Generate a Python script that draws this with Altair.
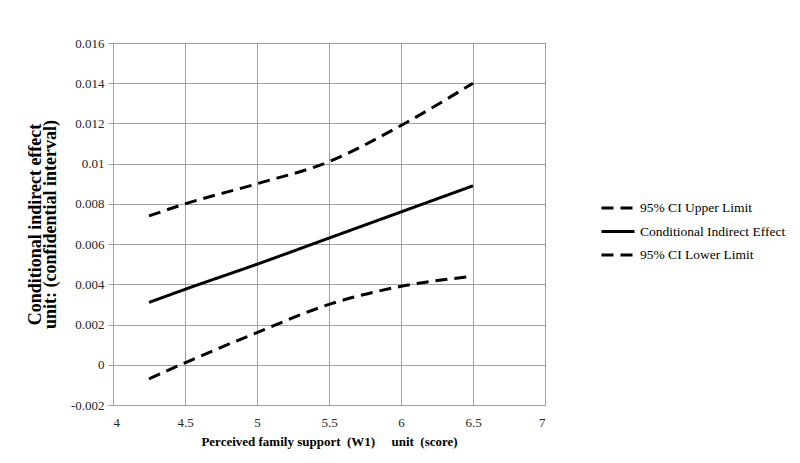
import altair as alt
import pandas as pd

# Values
support = [4.25, 4.5, 5.0, 5.5, 6.0, 6.5]
upper = [0.0074, 0.0080, 0.0090, 0.0101, 0.0119, 0.0140]
effect = [0.0031, 0.00375, 0.0050, 0.0063, 0.0076, 0.0089]
lower = [-0.0007, 0.0001, 0.0016, 0.0030, 0.0039, 0.0044]

series_names = ["95% CI Upper Limit", "Conditional Indirect Effect", "95% CI Lower Limit"]

rows = []
for name, vals in zip(series_names, [upper, effect, lower]):
    for x, v in zip(support, vals):
        rows.append({"support": x, "value": v, "series": name})
df = pd.DataFrame(rows)

FONT = "Liberation Serif"
NB = "\u00a0"

chart = (
    alt.Chart(df)
    .mark_line(color="black", strokeWidth=3, interpolate="monotone")
    .encode(
        x=alt.X(
            "support:Q",
            scale=alt.Scale(domain=[4, 7], nice=False, zero=False),
            axis=alt.Axis(
                values=[4, 4.5, 5, 5.5, 6, 6.5, 7],
                title=f"Perceived family support{NB}{NB}(W1){NB}{NB}{NB}{NB}{NB}unit{NB}{NB}(score)",
                labelExpr="datum.value",
                ticks=False,
                labelPadding=11,
                titlePadding=6,
                titleFontSize=13,
            ),
        ),
        y=alt.Y(
            "value:Q",
            scale=alt.Scale(domain=[-0.002, 0.016], nice=False, zero=False),
            axis=alt.Axis(
                values=[-0.002, 0, 0.002, 0.004, 0.006, 0.008, 0.01, 0.012, 0.014, 0.016],
                labelExpr="datum.value",
                title=["Conditional indirect effect", "unit: (confidential interval)"],
                tickSize=5,
                labelPadding=4,
                titlePadding=11,
                titleFontSize=18,
                titleLineHeight=15,
            ),
        ),
        strokeDash=alt.StrokeDash(
            "series:N",
            scale=alt.Scale(domain=series_names, range=[[12, 7], [1, 0], [12, 7]]),
            sort=series_names,
            legend=alt.Legend(
                title=None,
                orient="none",
                legendX=487,
                legendY=157,
                symbolType="stroke",
                symbolSize=1089,
                symbolStrokeWidth=3,
                symbolStrokeColor="black",
                labelFont=FONT,
                labelFontSize=13.5,
                labelColor="black",
                clipHeight=16,
                rowPadding=7.5,
                padding=0,
                labelOffset=4,
                labelLimit=300,
            ),
        ),
        detail="series:N",
    )
    .properties(
        width=432,
        height=362,
        padding={"left": 105, "top": 35, "right": 247, "bottom": 50},
        autosize=alt.AutoSizeParams(type="none"),
    )
    .configure_view(stroke="#a0a0a0", strokeWidth=1)
    .configure_axis(
        labelFont=FONT,
        labelFontSize=13,
        labelColor="#262626",
        titleFont=FONT,
        titleFontWeight="bold",
        titleColor="black",
        gridColor="#a0a0a0",
        gridWidth=1,
        gridOpacity=1,
        domainColor="#a0a0a0",
        tickColor="#a0a0a0",
    )
)

chart.save("out.html", embed_options={"renderer": "svg", "actions": False})
